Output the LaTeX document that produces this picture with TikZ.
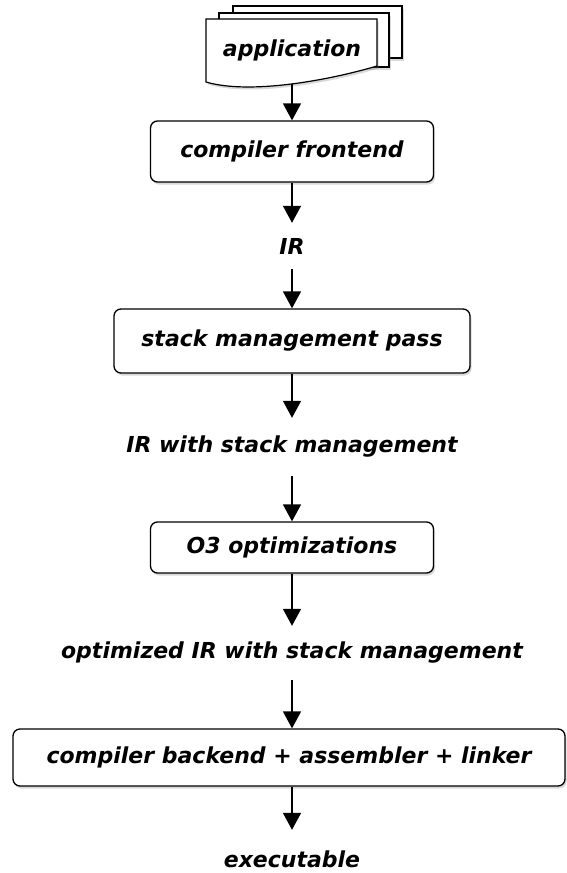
\documentclass[tikz,border=0pt]{standalone}
\usepackage{fontspec}
\setmainfont{DejaVu Sans}
\usetikzlibrary{arrows.meta,shadows}
\newcommand{\stagefont}{\fontsize{22}{26}\selectfont\bfseries\itshape}
\tikzset{
  softshadow/.style={drop shadow={shadow xshift=1.5pt,shadow yshift=-2.5pt,opacity=0.3}},
  stagebox/.style={draw,line width=1.3pt,rounded corners=7pt,fill=white,softshadow,inner sep=0pt,font=\stagefont},
  irlabel/.style={inner sep=0pt,font=\stagefont},
  flow/.style={line width=1.6pt,-{Triangle[width=18pt,length=17pt]}},
  sheet/.style={draw,line width=1.2pt,fill=white,softshadow}
}
\begin{document}
\begin{tikzpicture}[x=1pt,y=-1pt]
\useasboundingbox (0,0) rectangle (566,873);
% input documents
\draw[sheet] (233,6) rectangle (402,58);
\draw[sheet] (219,13) rectangle (389,67);
\draw[sheet] (206,19)--(377,19)--(377,66) .. controls (330,80) and (250,95) .. (206,82)--cycle;
\node[irlabel] (app) at (292,50) {application};
\coordinate (appbot) at (292,84);
% pipeline
\node[stagebox,minimum width=283pt,minimum height=61pt] (front) at (292,151.5) {compiler frontend};
\node[irlabel,minimum height=46pt] (ir) at (292,246) {IR};
\node[stagebox,minimum width=356pt,minimum height=64pt] (stack) at (292,341) {stack management pass};
\node[irlabel,minimum height=58pt] (irstack) at (292,447) {IR with stack management};
\node[stagebox,minimum width=283pt,minimum height=51pt] (opt) at (292,547.5) {O3 optimizations};
\node[irlabel,minimum height=54pt] (iropt) at (292,653) {optimized IR with stack management};
\node[stagebox,minimum width=552pt,minimum height=57pt] (back) at (289,757.5) {compiler backend + assembler + linker};
\node[irlabel,minimum height=58pt] (exe) at (292,859) {executable};
\foreach \a/\b in {appbot/front,front/ir,ir/stack,stack/irstack,irstack/opt,opt/iropt}
  \draw[flow] (\a) -- (\b);
\draw[flow] (iropt.south) -- (iropt.south |- back.north);
\draw[flow] (exe.north |- back.south) -- (exe.north);
\end{tikzpicture}
\end{document}
